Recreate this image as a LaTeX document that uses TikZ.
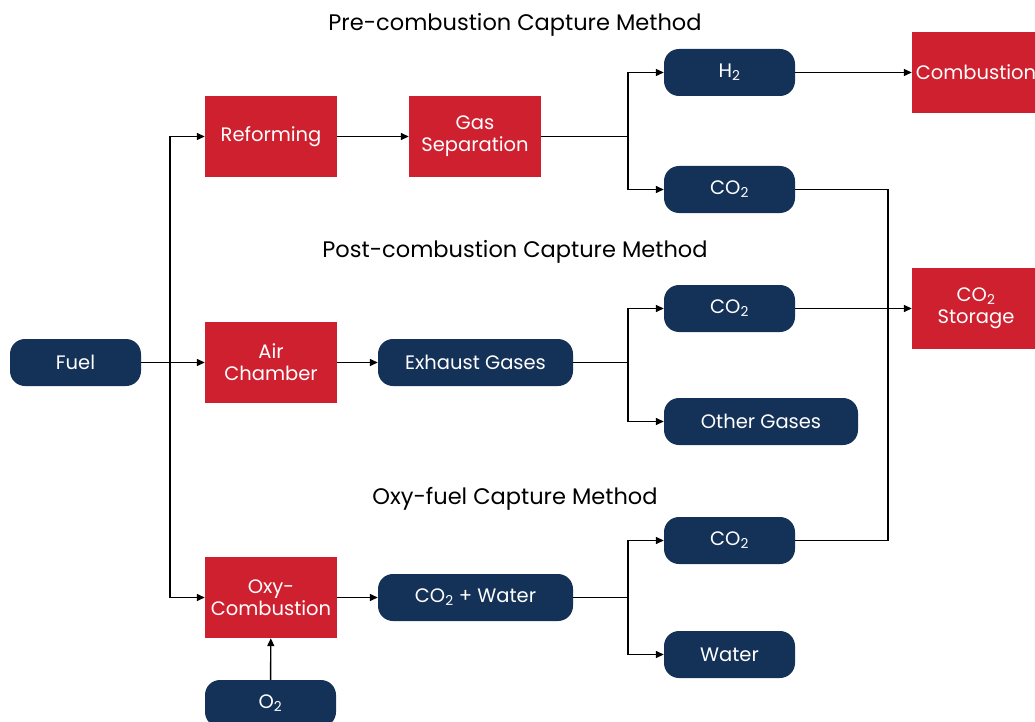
\documentclass[tikz,border=0pt]{standalone}
\usepackage{fontspec}
\setmainfont{Poppins}
\usetikzlibrary{arrows.meta}
\definecolor{navy}{RGB}{20,50,88}
\definecolor{cred}{RGB}{207,32,47}
\newcommand{\sub}[1]{\textsubscript{#1}}
\begin{document}
\begin{tikzpicture}[x=1pt,y=-1pt,
  every node/.style={font=\fontsize{19.5}{22}\selectfont, text=white, align=center, inner sep=0pt},
  redbox/.style={fill=cred, minimum width=132, minimum height=81},
  pill/.style={fill=navy, rounded corners=15pt, minimum height=47},
  title/.style={text=black, font=\fontsize{22.5}{26}\selectfont},
  conn/.style={draw=black, line width=1.4pt, -{Triangle[length=8pt,width=7pt]}},
  plain/.style={draw=black, line width=1.4pt}]
\useasboundingbox (0,0) rectangle (1035,722);
\node[title] (t1) at (515,25) {Pre-combustion Capture Method};
\node[title] (t2) at (515,252) {Post-combustion Capture Method};
\node[title] (t3) at (515,499) {Oxy-fuel Capture Method};

\node[pill, minimum width=131] (fuel) at (75.5,362.5) {Fuel};
\node[redbox] (ref) at (271,136.5) {Reforming};
\node[redbox] (gas) at (475,136.5) {Gas\\Separation};
\node[pill, minimum width=131] (h2) at (729.5,72.5) {H\sub{2}};
\node[redbox, minimum width=128] (comb) at (976,72.5) {Combustion};
\node[pill, minimum width=131] (co2a) at (729.5,189.5) {CO\sub{2}};
\node[pill, minimum width=131] (co2b) at (729.5,308.5) {CO\sub{2}};
\node[redbox, minimum width=128] (stor) at (976,308.5) {CO\sub{2}\\Storage};
\node[redbox] (air) at (271,362.5) {Air\\Chamber};
\node[pill, minimum width=195] (exh) at (475.5,362.5) {Exhaust Gases};
\node[pill, minimum width=194] (oth) at (761,421.5) {Other Gases};
\node[pill, minimum width=131] (co2c) at (729.5,540.5) {CO\sub{2}};
\node[redbox] (oxy) at (271,597.5) {Oxy-\\Combustion};
\node[pill, minimum width=195] (cw) at (475.5,597.5) {CO\sub{2} + Water};
\node[pill, minimum width=131] (wat) at (729.5,654.5) {Water};
\node[pill, minimum width=131] (o2) at (270.5,703.5) {O\sub{2}};

\coordinate (jf) at (170,362.5);
\draw[conn] (fuel) -- (air);
\draw[conn] (jf) |- (ref.west);
\draw[conn] (jf) |- (oxy.west);
\draw[conn] (ref) -- (gas);
\coordinate (jg) at (628,136.5);
\draw[plain] (gas) -- (jg);
\draw[conn] (jg) |- (h2.west);
\draw[conn] (jg) |- (co2a.west);
\draw[conn] (h2) -- (comb);
\coordinate (je) at (628,362.5);
\draw[plain] (exh) -- (je);
\draw[conn] (je) |- (co2b.west);
\draw[conn] (je) |- (oth.west);
\coordinate (jc) at (628,597.5);
\draw[plain] (cw) -- (jc);
\draw[conn] (jc) |- (co2c.west);
\draw[conn] (jc) |- (wat.west);
\draw[conn] (air) -- (exh);
\draw[conn] (oxy) -- (cw);
\draw[conn] (o2) -- (oxy);
\draw[conn] (co2b) -- (stor);
\coordinate (js) at (888,189.5);
\draw[plain] (co2a.east) -- (js) |- (co2c.east);
\end{tikzpicture}
\end{document}
